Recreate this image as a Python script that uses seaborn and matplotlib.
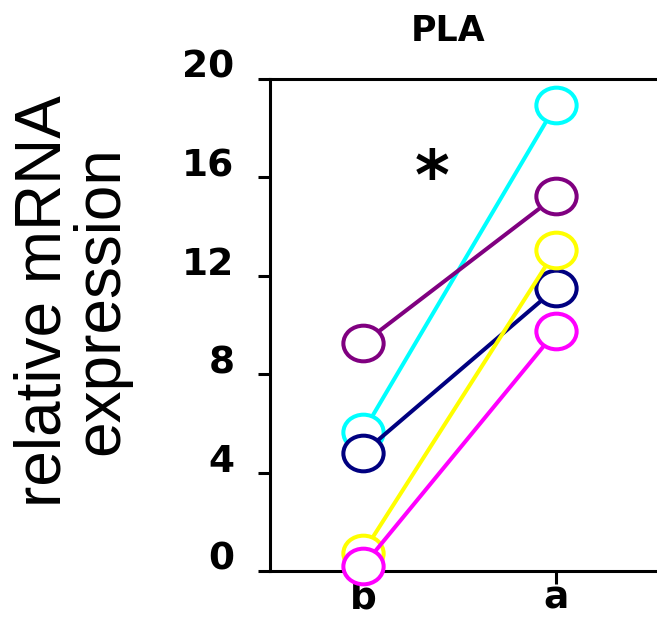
import numpy as np
import pandas as pd
import matplotlib
matplotlib.use("Agg")
import matplotlib.pyplot as plt
from matplotlib.path import Path
from matplotlib.transforms import ScaledTranslation, Affine2D
import seaborn as sns

# Paired measurements per subject, before (b) and after (a)
subjects = ["s1", "s2", "s3", "s4", "s5"]
colors = ["#00FFFF", "#000080", "#800080", "#FFFF00", "#FF00FF"]
before = [5.65, 4.8, 9.25, 0.75, 0.2]
after = [18.95, 11.5, 15.25, 13.05, 9.75]
conditions = ["b", "a"]
yticks = [0, 4, 8, 12, 16, 20]

rows = []
for s, v0, v1 in zip(subjects, before, after):
    rows.append({"subject": s, "pos": 0, "value": v0})
    rows.append({"subject": s, "pos": 1, "value": v1})
df = pd.DataFrame(rows)

sns.set_style("ticks")
plt.rcParams["font.family"] = ["DejaVu Sans"]
plt.rcParams["text.color"] = "black"

W, H = 657, 618
fig = plt.figure(figsize=(W / 100, H / 100), dpi=100)
ax = fig.add_axes([270 / W, 1 - 571 / H, (W - 270) / W, (571 - 79) / H])

# slightly wide open ellipse marker
ellipse = Path.unit_circle().transformed(Affine2D().scale(1.13, 1.0))

sns.lineplot(data=df, x="pos", y="value", hue="subject", hue_order=subjects,
             palette=colors, sort=False, legend=False, ax=ax,
             marker=ellipse, markersize=29, markerfacecolor="white",
             markeredgewidth=2.9, linewidth=2.9)

for i, line in enumerate(ax.get_lines()):
    line.set_markeredgecolor(line.get_color())
    line.set_zorder(3 + i)
    line.set_clip_on(False)

ax.set_xlim(-93 / 193, (W - 363) / 193)
ax.set_ylim(0, 20)
ax.set_xticks([0, 1])
ax.set_xticklabels(conditions)
ax.set_yticks(yticks)
ax.set_yticklabels([str(t) for t in yticks])
ax.set_xlabel("")
ax.set_ylabel("")

for side in ["left", "bottom", "top"]:
    ax.spines[side].set_linewidth(2.2)
    ax.spines[side].set_color("black")
ax.spines["right"].set_visible(False)

ax.tick_params(axis="y", direction="out", length=8.6, width=2.2, pad=17,
               labelsize=27, color="black", labelcolor="black")
ax.tick_params(axis="x", direction="out", length=9, width=2.2, pad=-2.5,
               labelsize=27, color="black", labelcolor="black")
for lab in ax.get_yticklabels() + ax.get_xticklabels():
    lab.set_fontweight("bold")
for lab in ax.get_yticklabels():
    lab.set_transform(lab.get_transform() + ScaledTranslation(0, 0.15, fig.dpi_scale_trans))

# significance mark
ax.text(0.36, 15.9, "*", fontsize=48, fontweight="bold", ha="center",
        va="center", color="black")

fig.text(448 / W, 1 - 31 / H, "PLA", fontsize=25, fontweight="bold",
         ha="center", va="center", color="black")

fig.text(72 / W, 1 - 301 / H, "relative mRNA\nexpression", rotation=90,
         fontsize=46, family=["Liberation Sans", "DejaVu Sans"], color="black",
         ha="center", va="center", multialignment="center", linespacing=0.95)

fig.savefig("out.png", dpi=100)
